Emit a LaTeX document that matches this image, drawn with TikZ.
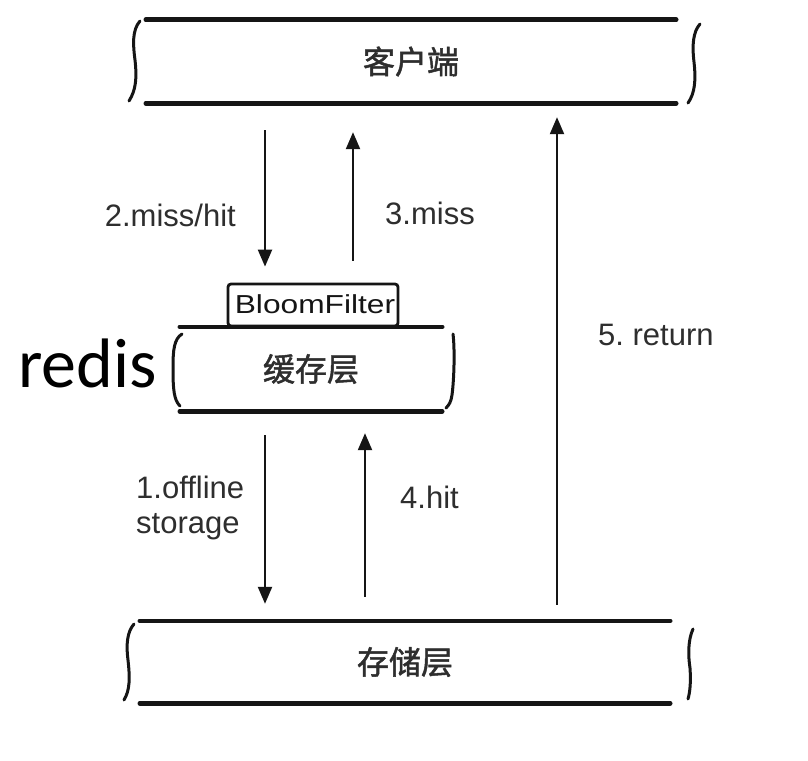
\documentclass[tikz,border=0pt]{standalone}
\usepackage{fontspec}
\setmainfont{Liberation Sans}
\newfontfamily\cjk[FakeBold=1.5]{Noto Sans CJK SC}
\newfontfamily\redisfont{Carlito}
\usetikzlibrary{arrows.meta}
\definecolor{ink}{HTML}{151515}
\definecolor{txt}{HTML}{2E2E2E}
\tikzset{
  boxline/.style={line width=4.6pt, ink, line cap=round},
  bracel/.style={line width=3pt, ink, line cap=round},
  flow/.style={line width=2.2pt, ink, -{Triangle[length=17pt,width=14pt]}},
  lbl/.style={font=\fontsize{31}{35}\selectfont, text=txt, inner sep=0pt},
  layer/.style={inner sep=0pt, font=\cjk\fontsize{32}{32}\selectfont, text=txt},
}
\begin{document}
\begin{tikzpicture}[x=1pt,y=-1pt]
\useasboundingbox (0,0) rectangle (808,760);
\fill[white] (0,0) rectangle (808,760);

% layer frames (invisible nodes giving the extent)
\node[layer, minimum width=530pt, minimum height=83pt] (client) at (411,61.5) {客户端};
\node[layer, minimum width=262pt, minimum height=84pt] (cache) at (311,369) {缓存层};
\node[layer, minimum width=530pt, minimum height=82pt] (storage) at (405,662) {存储层};
\node[draw=ink, line width=2.8pt, rounded corners=3pt, minimum width=170pt, minimum height=42pt, inner sep=0pt] (bloom) at (313,305) {};
\node[inner sep=0pt, text=ink] (bloomtxt) at (315,304) {\scalebox{1.22}[1]{\fontsize{26}{26}\selectfont BloomFilter}};

% client box
\draw[boxline] (client.north west) -- (client.north east);
\draw[boxline] (client.south west) -- (client.south east);
\draw[bracel] (140,21) .. controls (132,30) and (133,45) .. (135,60) .. controls (137,78) and (136,90) .. (129,101);
\draw[bracel] (700,24) .. controls (693,32) and (692,45) .. (694,62) .. controls (696,80) and (695,93) .. (688,103);

% cache box
\draw[boxline] (cache.north west) -- (cache.north east);
\draw[boxline] (cache.south west) -- (cache.south east);
\draw[bracel] (182,334) .. controls (174,339) and (173,350) .. (173,368) .. controls (173,390) and (174,400) .. (180,406);
\draw[bracel] (453,334) .. controls (455,350) and (454,380) .. (452,395) .. controls (451,402) and (449,405) .. (446,408);

% storage box
\draw[boxline] (storage.north west) -- (storage.north east);
\draw[boxline] (storage.south west) -- (storage.south east);
\draw[bracel] (134,624) .. controls (127,632) and (126,645) .. (128,660) .. controls (130,678) and (130,690) .. (124,700);
\draw[bracel] (693,629) .. controls (688,640) and (688,655) .. (690,668) .. controls (691,682) and (690,692) .. (688,699);

% redis label
\node[anchor=base west, inner sep=0pt, font=\redisfont\fontsize{70}{70}\selectfont, text=black] (redis) at (18,387) {redis};

% arrow columns
\coordinate (xa) at (265,0);
\coordinate (xb) at (353,0);
\coordinate (xc) at (365,0);
\coordinate (xd) at (557,0);

\draw[flow, shorten <=27pt, shorten >=16pt] (client.south -| xa) -- (bloom.north -| xa);
\draw[flow, shorten <=22pt, shorten >=29pt] (bloom.north -| xb) -- (client.south -| xb);
\draw[flow, shorten <=24pt, shorten >=17pt] (cache.south -| xa) -- (storage.north -| xa);
\draw[flow, shorten <=24pt, shorten >=22pt] (storage.north -| xc) -- (cache.south -| xc);
\draw[flow, shorten <=16pt, shorten >=14pt] (storage.north -| xd) -- (client.south -| xd);

% labels
\node[lbl, anchor=east] (l2) at (236,215) {2.miss/hit};
\node[lbl, anchor=west] (l3) at (385,213) {3.miss};
\node[lbl, anchor=west] (l5) at (598,335) {5.~return};
\node[lbl, anchor=west, align=left] (l1) at (136,508) {1.offline\\storage};
\node[lbl, anchor=west] (l4) at (400,497) {4.hit};
\end{tikzpicture}
\end{document}
